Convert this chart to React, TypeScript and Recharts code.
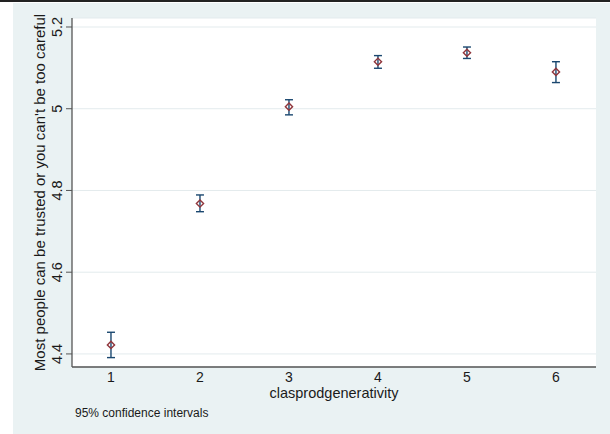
import { CartesianGrid, ComposedChart, ErrorBar, Scatter, XAxis, YAxis } from 'recharts';

// group means with 95% confidence bounds
const groups = [1, 2, 3, 4, 5, 6];
const means = [4.422, 4.768, 5.005, 5.115, 5.137, 5.09];
const lower = [4.391, 4.748, 4.985, 5.099, 5.123, 5.064];
const upper = [4.453, 4.789, 5.022, 5.13, 5.151, 5.115];
const yTicks = [4.4, 4.6, 4.8, 5, 5.2];
const xTicks = [1, 2, 3, 4, 5, 6];

const yTitle = "Most people can be trusted or you can't be too careful";
const xTitle = 'clasprodgenerativity';
const note = '95% confidence intervals';

const FONT = '"Liberation Sans", Arial, sans-serif';
const NAVY = '#1a476f';
const MAROON = '#90353b';
const BG = '#eaf2f3';
const INK = '#1a1a1a';

const data = groups.map((g, i) => ({
    g,
    mean: means[i],
    ci: [means[i] - lower[i], upper[i] - means[i]],
}));

function YTick({ x, y, payload }: any): React.JSX.Element {
    const bx = x - 2;
    return (
        <text x={bx} y={y} transform={`rotate(-90 ${bx} ${y})`} textAnchor="middle" fontSize={14.5} fill={INK} fontFamily={FONT}>
            {payload.value}
        </text>
    );
}

function XTick({ x, payload }: any): React.JSX.Element {
    return (
        <text x={x} y={382} textAnchor="middle" fontSize={14} fill={INK} fontFamily={FONT}>
            {payload.value}
        </text>
    );
}

function Diamond({ cx, cy }: any): React.JSX.Element {
    const r = 3.6;
    return (
        <path
            d={`M${cx},${cy - r} L${cx + r},${cy} L${cx},${cy + r} L${cx - r},${cy} Z`}
            fill="none"
            stroke={MAROON}
            strokeWidth={1.4}
        />
    );
}

export default function App(): React.JSX.Element {
    return (
        <div style={{ position: 'fixed', left: 0, top: 0, width: 610, height: 434, background: '#fff', fontFamily: FONT }}>
            <div style={{ position: 'absolute', left: 0, top: 0, width: 610, height: 2, background: '#222' }} />
            <div style={{ position: 'absolute', left: 13, top: 3, width: 597, height: 431, background: BG }} />
            <div style={{ position: 'absolute', left: 0, top: 0 }}>
                <ComposedChart width={610} height={434} data={data} margin={{ top: 18, right: 14, bottom: 37, left: 0 }}>
                    <CartesianGrid fill="#fff" vertical={false} stroke="#e3ebed" strokeWidth={1} />
                    <XAxis
                        dataKey="g"
                        type="number"
                        domain={[0.562, 6.45]}
                        ticks={xTicks}
                        allowDataOverflow
                        axisLine={{ stroke: '#555', strokeWidth: 1.3 }}
                        tickLine={false}
                        height={30}
                        tick={<XTick />}
                        label={() => (
                            <text x={334} y={398} textAnchor="middle" fontSize={14.5} fill={INK} fontFamily={FONT}>
                                {xTitle}
                            </text>
                        )}
                    />
                    <YAxis
                        type="number"
                        domain={[4.368, 5.222]}
                        ticks={yTicks}
                        allowDataOverflow
                        width={72}
                        axisLine={{ stroke: '#555', strokeWidth: 1.3 }}
                        tickLine={{ stroke: '#555' }}
                        tickSize={6}
                        tick={<YTick />}
                        label={({ viewBox }: any) => {
                            const lx = viewBox.x + 45;
                            const ly = viewBox.y + viewBox.height / 2;
                            return (
                                <text
                                    x={lx}
                                    y={ly}
                                    transform={`rotate(-90 ${lx} ${ly})`}
                                    textAnchor="middle"
                                    fontSize={15}
                                    fill={INK}
                                    fontFamily={FONT}
                                >
                                    {yTitle}
                                </text>
                            );
                        }}
                    />
                    <Scatter dataKey="mean" shape={<Diamond />} isAnimationActive={false}>
                        <ErrorBar dataKey="ci" direction="y" width={4} stroke={NAVY} strokeWidth={1.4} />
                    </Scatter>
                </ComposedChart>
            </div>
            <div style={{ position: 'absolute', left: 75, top: 406, fontSize: 12, color: INK, whiteSpace: 'nowrap' }}>
                {note}
            </div>
        </div>
    );
}
